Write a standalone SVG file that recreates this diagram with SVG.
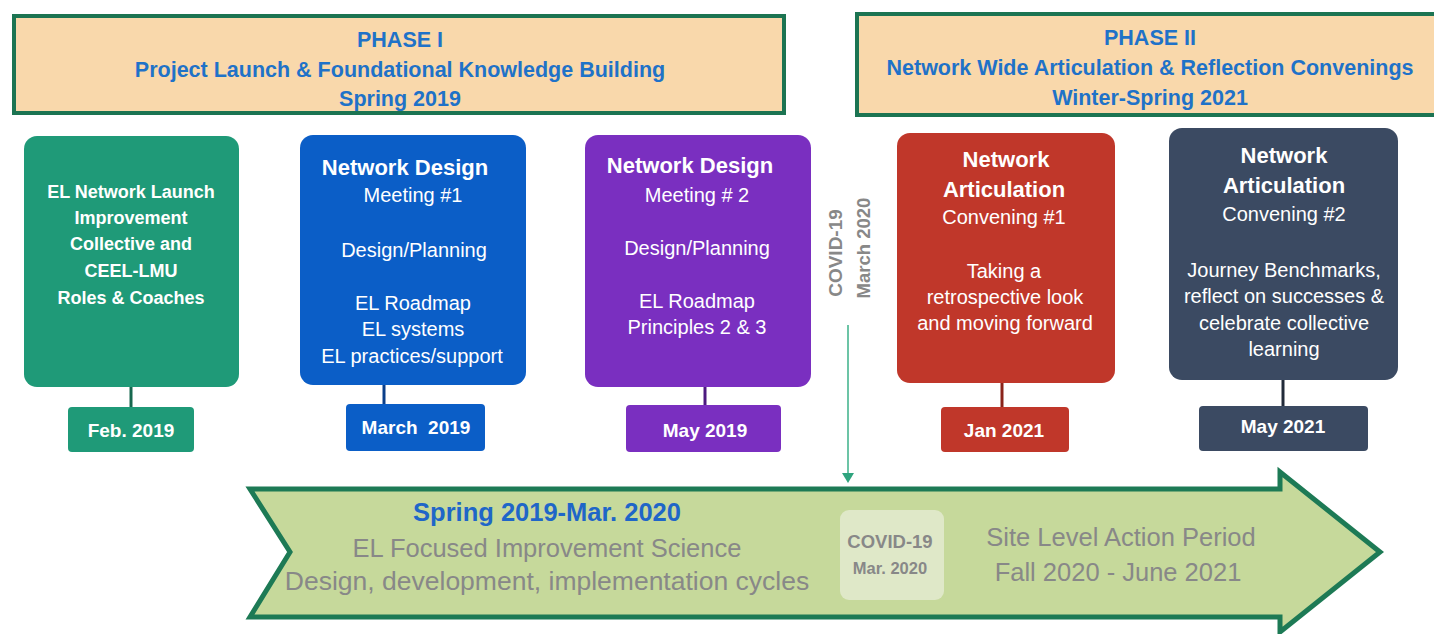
<svg xmlns="http://www.w3.org/2000/svg" width="1434" height="634" viewBox="0 0 1434 634">
<style>
text{font-family:"Liberation Sans",Arial,sans-serif;text-anchor:middle;dominant-baseline:central}
.ph{fill:#f9d8ab;stroke:#1c7452;stroke-width:4}
.pt{fill:#1f72c8;font-weight:bold;font-size:21.5px}
.w{fill:#fff}
.b18{font-weight:bold;font-size:18px}
.b22{font-weight:bold;font-size:22px}
.n20{font-size:20px}
.d{font-weight:bold;font-size:19px;fill:#fff}
.g{fill:#888}
</style>
<rect width="1434" height="634" fill="#fff"/>

<g id="phase1">
<rect class="ph" x="14" y="16" width="770" height="97"/>
<text class="pt" x="400" y="40">PHASE I</text>
<text class="pt" x="400" y="70">Project Launch &amp; Foundational Knowledge Building</text>
<text class="pt" x="400" y="99">Spring 2019</text>
</g>

<g id="phase2">
<rect class="ph" x="857" y="14" width="600" height="101"/>
<text class="pt" x="1150" y="38">PHASE II</text>
<text class="pt" x="1150" y="68" font-size="22">Network Wide Articulation &amp; Reflection Convenings</text>
<text class="pt" x="1150" y="98">Winter-Spring 2021</text>
</g>

<g id="connectors">
<line x1="131" y1="386" x2="131" y2="408" stroke="#17684f" stroke-width="3"/>
<line x1="384" y1="384" x2="384" y2="405" stroke="#0a3f8a" stroke-width="3"/>
<line x1="705" y1="386" x2="705" y2="406" stroke="#4d1a80" stroke-width="3"/>
<line x1="1002" y1="382" x2="1002" y2="408" stroke="#8a231a" stroke-width="3"/>
<line x1="1283" y1="379" x2="1283" y2="407" stroke="#222b3a" stroke-width="3"/>
<line x1="848" y1="325" x2="848" y2="474" stroke="#6cc4a6" stroke-width="2"/>
<polygon points="842,473 854,473 848,483" fill="#2fa47e"/>
</g>

<g id="node1">
<rect x="24" y="136" width="215" height="251" rx="13" fill="#1f9a78"/>
<g class="w b18">
<text x="131" y="192">EL Network Launch</text>
<text x="131" y="218">Improvement</text>
<text x="131" y="244">Collective and</text>
<text x="131" y="271">CEEL-LMU</text>
<text x="131" y="298">Roles &amp; Coaches</text>
</g>
</g>
<g id="date1">
<rect x="68" y="407" width="126" height="45" rx="4" fill="#1f9a78"/>
<text class="d" x="131" y="430">Feb. 2019</text>
</g>

<g id="node2">
<rect x="300" y="135" width="226" height="250" rx="13" fill="#0b5ec7"/>
<g class="w">
<text class="b22" x="405" y="167">Network Design</text>
<text class="n20" x="413" y="195">Meeting #1</text>
<text class="n20" x="414" y="250">Design/Planning</text>
<text class="n20" x="413" y="303">EL Roadmap</text>
<text class="n20" x="413" y="329">EL systems</text>
<text class="n20" x="412" y="356">EL practices/support</text>
</g>
</g>
<g id="date2">
<rect x="346" y="404" width="139" height="47" rx="4" fill="#0b5ec7"/>
<text class="d" x="416" y="427" xml:space="preserve">March  2019</text>
</g>

<g id="node3">
<rect x="585" y="135" width="226" height="252" rx="13" fill="#7a2fc0"/>
<g class="w">
<text class="b22" x="690" y="165">Network Design</text>
<text class="n20" x="697" y="195">Meeting # 2</text>
<text class="n20" x="697" y="248">Design/Planning</text>
<text class="n20" x="697" y="301">EL Roadmap</text>
<text class="n20" x="697" y="327">Principles 2 &amp; 3</text>
</g>
</g>
<g id="date3">
<rect x="626" y="405" width="155" height="47" rx="4" fill="#7a2fc0"/>
<text class="d" x="705" y="430">May 2019</text>
</g>

<g id="covid-note">
<text class="g" font-weight="bold" font-size="19" transform="translate(835,253) rotate(-90)" x="0" y="0">COVID-19</text>
<text class="g" font-weight="bold" font-size="18.5" transform="translate(863,248) rotate(-90)" x="0" y="0">March 2020</text>
</g>

<g id="node4">
<rect x="897" y="133" width="218" height="250" rx="13" fill="#c0372a"/>
<g class="w">
<text class="b22" x="1006" y="159">Network</text>
<text class="b22" x="1004" y="189">Articulation</text>
<text class="n20" x="1004" y="217">Convening #1</text>
<text class="n20" x="1004" y="271">Taking a</text>
<text class="n20" x="1005" y="297">retrospective look</text>
<text class="n20" x="1005" y="323">and moving forward</text>
</g>
</g>
<g id="date4">
<rect x="941" y="407" width="128" height="45" rx="4" fill="#c0372a"/>
<text class="d" x="1004" y="430">Jan 2021</text>
</g>

<g id="node5">
<rect x="1169" y="128" width="229" height="252" rx="13" fill="#3b4a62"/>
<g class="w">
<text class="b22" x="1284" y="155">Network</text>
<text class="b22" x="1284" y="185">Articulation</text>
<text class="n20" x="1284" y="214">Convening #2</text>
<text class="n20" x="1284" y="270">Journey Benchmarks,</text>
<text class="n20" x="1284" y="296">reflect on successes &amp;</text>
<text class="n20" x="1284" y="323">celebrate collective</text>
<text class="n20" x="1284" y="349">learning</text>
</g>
</g>
<g id="date5">
<rect x="1199" y="406" width="169" height="45" rx="4" fill="#3b4a62"/>
<text class="d" x="1283" y="426">May 2021</text>
</g>

<g id="timeline-arrow">
<polygon points="250,489 1280,489 1280,472 1380,552 1280,632 1280,617 250,617 290,552" fill="#c6d99b" stroke="#1d7a55" stroke-width="5" stroke-linejoin="miter"/>
<text x="547" y="512" font-weight="bold" font-size="25.5" fill="#1f66c8">Spring 2019-Mar. 2020</text>
<text class="g" x="547" y="548" font-size="25.5">EL Focused Improvement Science</text>
<text class="g" x="547" y="581" font-size="26.5">Design, development, implementation cycles</text>
<rect x="840" y="510" width="104" height="90" rx="9" fill="#dfe8c8"/>
<text class="g" x="890" y="541" font-weight="bold" font-size="18.5">COVID-19</text>
<text class="g" x="890" y="568" font-weight="bold" font-size="16.5">Mar. 2020</text>
<text class="g" x="1121" y="537" font-size="25.5">Site Level Action Period</text>
<text class="g" x="1118" y="572" font-size="25.5">Fall 2020 - June 2021</text>
</g>
</svg>
